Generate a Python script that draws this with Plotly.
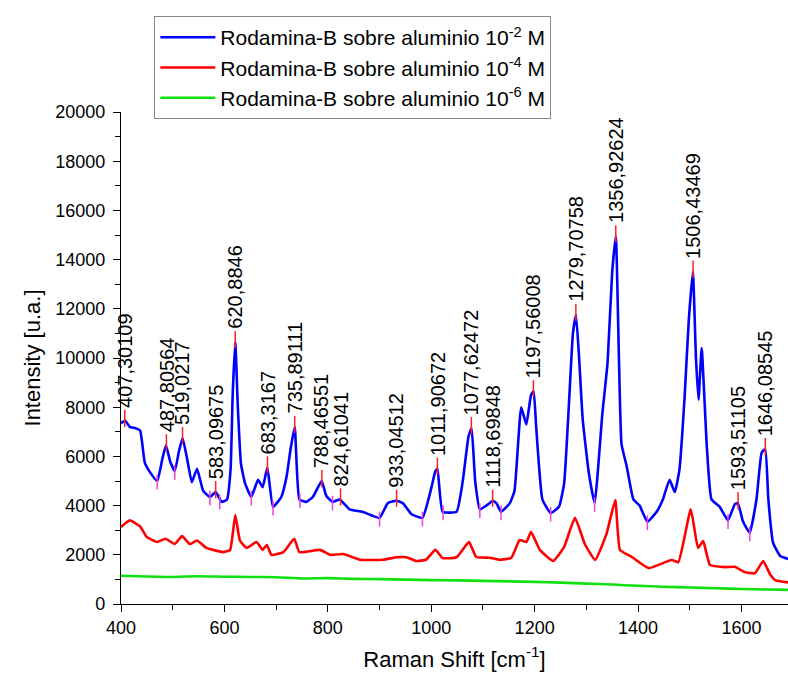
import plotly.graph_objects as go

# ---------------- data ----------------
blue_x = [400, 408, 417, 428, 437, 446, 458, 470, 480, 487, 495, 504, 512, 519, 527, 537, 547, 559, 572, 583,
          595, 605, 612, 616, 621, 626, 632, 640, 652, 665, 674, 683, 694, 710, 720, 728, 736, 745, 758, 771,
          788, 797, 809, 823, 842, 867, 900, 916, 933, 945, 962, 983, 1000, 1008, 1012, 1022, 1049, 1061, 1072, 1078,
          1085, 1094, 1110, 1119, 1126, 1135, 1152, 1161, 1174, 1184, 1193, 1198, 1203, 1215, 1231, 1247, 1257, 1267, 1274, 1280,
          1286, 1293, 1305, 1316, 1331, 1341, 1350, 1357, 1363, 1368, 1378, 1391, 1403, 1418, 1436, 1448, 1461, 1471, 1480, 1490,
          1498, 1506, 1512, 1517, 1523, 1533, 1542, 1558, 1574, 1587, 1593, 1603, 1616, 1629, 1639, 1646, 1652, 1661, 1675, 1700]
blue_y = [7350, 7450, 7200, 7150, 7050, 5750, 5300, 5000, 5900, 6450, 5800, 5400, 6200, 6750, 6000, 4950, 5500, 4600, 4350, 4550,
          4150, 4250, 5500, 8500, 10650, 8000, 5700, 4900, 4350, 5050, 4750, 5550, 3950, 4350, 5150, 6300, 7200, 4250, 4150, 4350,
          5000, 4400, 4150, 4250, 3850, 3750, 3500, 4100, 4200, 4100, 3650, 3500, 4700, 5400, 5500, 3750, 3750, 5000, 6800, 7150,
          5000, 3850, 4050, 4200, 4100, 3750, 4100, 4600, 8000, 7300, 8500, 8650, 7200, 4250, 3700, 3950, 4900, 8400, 11000, 11750,
          10000, 7500, 5300, 4100, 7750, 9800, 13500, 14950, 10000, 6500, 5600, 4250, 4000, 3350, 3750, 4250, 5050, 4550, 5450, 8400,
          11500, 13500, 10000, 8300, 10400, 6400, 4250, 3950, 3400, 4050, 4100, 3350, 2900, 4250, 6150, 6300, 4250, 2500, 1950, 1780]

red_x = [400, 417, 437, 450, 470, 486, 504, 518, 533, 547, 565, 598, 611, 621, 630, 643, 662, 674, 682, 691,
         714, 735, 745, 785, 804, 830, 862, 907, 933, 952, 971, 990, 1008, 1022, 1049, 1073, 1087, 1113, 1132, 1155,
         1171, 1184, 1193, 1210, 1236, 1257, 1278, 1297, 1317, 1339, 1356, 1365, 1388, 1420, 1465, 1478, 1502, 1516, 1526, 1539,
         1568, 1587, 1606, 1626, 1642, 1655, 1665, 1700]
red_y = [3130, 3400, 3150, 2720, 2520, 2650, 2440, 2760, 2440, 2580, 2280, 2110, 2200, 3620, 2580, 2280, 2520, 2200, 2400, 2000,
         2110, 2650, 2110, 2200, 2000, 2030, 1800, 1800, 1900, 1900, 1750, 1800, 2200, 1870, 1900, 2520, 1910, 1880, 1800, 1880,
         2600, 2520, 2930, 2200, 1750, 2320, 3500, 2440, 1790, 2850, 4230, 2200, 1910, 1460, 1790, 1700, 3850, 2280, 2560, 1590,
         1500, 1510, 1300, 1250, 1750, 1220, 975, 850]

green_x = [400, 450, 500, 550, 600, 650, 700, 750, 800, 850, 900, 950, 1000, 1050, 1100, 1150, 1200, 1250, 1300, 1350,
           1400, 1450, 1500, 1550, 1600, 1650, 1700]
green_y = [1150, 1120, 1100, 1130, 1110, 1100, 1090, 1040, 1050, 1020, 1010, 990, 970, 960, 940, 920, 900, 870, 830, 790,
           740, 700, 670, 640, 610, 590, 570]

series_names = ["Rodamina-B sobre aluminio 10<sup>-2</sup> M",
                "Rodamina-B sobre aluminio 10<sup>-4</sup> M",
                "Rodamina-B sobre aluminio 10<sup>-6</sup> M"]
series_colors = ["#0000ff", "#ff0000", "#10e010"]

peak_labels = ["407,30109", "487,80564", "519,0217", "583,09675", "620,8846", "683,3167", "735,89111", "788,46551",
               "824,61041", "933,04512", "1011,90672", "1077,62472", "1118,69848", "1197,56008", "1279,70758",
               "1356,92624", "1506,43469", "1593,51105", "1646,08545"]
peak_x = [407.3, 487.8, 519.0, 583.1, 620.9, 683.3, 735.9, 788.5, 824.6, 933.0, 1011.9, 1077.6, 1118.7, 1197.6,
          1279.7, 1356.9, 1506.4, 1593.5, 1646.1]
peak_y = [7450, 6450, 6750, 4550, 10650, 5550, 7200, 5000, 4250, 4200, 5500, 7150, 4200, 8650, 11750, 14950, 13500,
          4100, 6300]

valley_x = [470, 504, 572, 591, 652, 694, 746, 809, 900, 983, 1023, 1094, 1135, 1231, 1316, 1418, 1574, 1616]
valley_y = [5000, 5400, 4350, 4200, 4350, 3950, 4250, 4150, 3500, 3500, 3750, 3850, 3750, 3700, 4100, 3350, 3400, 2900]

x_ticks = [400, 600, 800, 1000, 1200, 1400, 1600]
y_ticks = [0, 2000, 4000, 6000, 8000, 10000, 12000, 14000, 16000, 18000, 20000]

FONT = "Arial, Liberation Sans, sans-serif"

fig = go.Figure()
for i, (xs, ys) in enumerate([(blue_x, blue_y), (red_x, red_y), (green_x, green_y)]):
    fig.add_trace(go.Scatter(x=xs, y=ys, mode="lines", name=series_names[i],
                             line=dict(color=series_colors[i], width=2.6, shape="spline", smoothing=0.4),
                             legendgroup=f"g{i}"))

# peak markers (red) and valley markers (magenta)
px_, py_ = [], []
for x, y in zip(peak_x, peak_y):
    px_ += [x, x, None]
    py_ += [y - 250, y + 450, None]
fig.add_trace(go.Scatter(x=px_, y=py_, mode="lines", line=dict(color="#ff2020", width=1.5),
                         showlegend=False, hoverinfo="skip"))
vx_, vy_ = [], []
for x, y in zip(valley_x, valley_y):
    vx_ += [x, x, None]
    vy_ += [y - 350, y + 250, None]
fig.add_trace(go.Scatter(x=vx_, y=vy_, mode="lines", line=dict(color="#f040e0", width=1.5),
                         showlegend=False, hoverinfo="skip"))

for lab, x, y in zip(peak_labels, peak_x, peak_y):
    fig.add_annotation(x=x, y=y + 450, text=lab, textangle=-90, showarrow=False,
                       xanchor="center", yanchor="bottom",
                       font=dict(family=FONT, size=20, color="#000000"))

fig.update_layout(
    width=788, height=688,
    margin=dict(l=121, r=0, t=112, b=84),
    paper_bgcolor="white", plot_bgcolor="white",
    font=dict(family=FONT, size=19, color="#000000"),
    showlegend=True,
    legend=dict(x=0.05, y=1.195, xanchor="left", yanchor="top",
                bordercolor="#888888", borderwidth=1, bgcolor="white",
                font=dict(family=FONT, size=21), tracegroupgap=0,
                itemwidth=55),
    xaxis=dict(range=[400, 1690], tickmode="array", tickvals=x_ticks,
               ticktext=[str(v) for v in x_ticks],
               showgrid=False, zeroline=False, showline=True, linecolor="black", linewidth=1.2,
               ticks="outside", ticklen=7, tickcolor="black", tickwidth=1.2,
               minor=dict(dtick=100, tick0=400, ticks="outside", ticklen=5, tickcolor="black"),
               title=dict(text="Raman Shift [cm<sup>-1</sup>]", font=dict(size=22), standoff=14),
               tickfont=dict(size=18), automargin=False),
    yaxis=dict(range=[0, 20000], tickmode="array", tickvals=y_ticks,
               ticktext=[str(v) for v in y_ticks],
               showgrid=False, zeroline=False, showline=True, linecolor="black", linewidth=1.2,
               ticks="outside", ticklen=7, tickcolor="black", tickwidth=1.2,
               minor=dict(dtick=1000, tick0=0, ticks="outside", ticklen=5, tickcolor="black"),
               title=dict(text="Intensity [u.a.]", font=dict(size=22), standoff=8),
               tickfont=dict(size=18), ticklabelstandoff=4, automargin=False),
)

fig.write_html("out.html")
